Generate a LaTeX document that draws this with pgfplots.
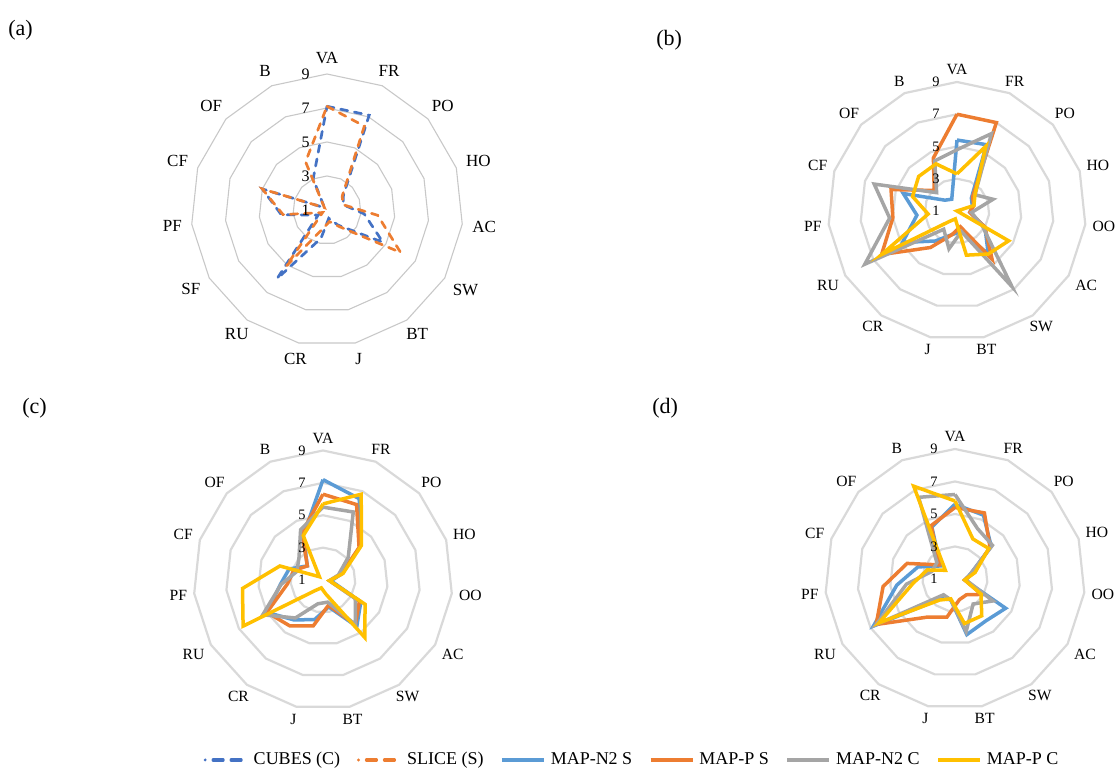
\documentclass[border=0pt]{standalone}
\usepackage{fontspec}
\setmainfont{Liberation Serif}
\usepackage{pgfplots}
\pgfplotsset{compat=1.18}
\usepgfplotslibrary{polar}
\usepackage{pgfplotstable}

\definecolor{cubes}{HTML}{4472C4}
\definecolor{slice}{HTML}{ED7D31}
\definecolor{mns}{HTML}{5B9BD5}
\definecolor{mps}{HTML}{ED7D31}
\definecolor{mnc}{HTML}{A5A5A5}
\definecolor{mpc}{HTML}{FFC000}
\definecolor{ringa}{HTML}{C8C8C8}
\definecolor{ringb}{HTML}{D9D9D9}

% angle, values (VA FR PO HO AC SW BT J CR RU SF PF CF OF B VA)
\pgfplotstableread{
a   cb   sl
90  7.1  7.1
66  7.1  6.4
42  2.3  2.2
18  2.0  2.0
354 3.2  4.0
330 4.8  6.0
306 2.1  2.2
282 1.5  1.7
258 2.7  2.1
234 6.0  5.1
210 1.6  1.3
186 3.7  3.6
162 5.0  5.0
138 1.2  1.2
114 3.0  4.1
90  7.1  7.1
}\tA
% (VA FR PO HO OO AC SW BT J CR RU PF CF OF B VA)
\pgfplotstableread{
a   ns   ps   nc   pc
90  5.4  7.0  4.8  3.3
66  5.5  7.0  6.25 5.4
42  2.2  2.3  2.5  2.5
18  2.0  2.1  3.35 2.1
354 1.8  1.8  1.9  1.0
330 3.0  3.0  2.8  4.7
306 4.3  4.7  6.8  4.3
282 2.3  2.0  2.3  3.8
258 2.5  2.5  3.4  1.5
234 3.3  3.8  2.4  1.8
210 4.9  6.4  7.6  6.4
186 3.5  5.0  5.2  2.8
162 4.5  5.3  6.4  3.9
138 2.0  2.9  2.7  4.2
114 1.8  4.6  4.4  4.2
90  5.4  7.0  4.8  3.3
}\tB
\pgfplotstableread{
a   ns   ps   nc   pc
90  7.2  6.3  5.5  5.7
66  6.5  6.1  5.6  6.8
42  4.1  4.0  3.1  4.2
18  2.2  2.2  2.0  2.3
354 1.5  1.4  1.4  1.4
330 3.7  3.6  3.3  4.0
306 4.55 4.4  4.4  5.4
282 2.7  2.6  2.4  1.9
258 3.5  3.9  2.5  1.5
234 4.05 4.5  3.9  1.8
210 5.0  5.0  5.3  6.7
186 3.65 3.2  3.6  6.0
162 3.2  2.9  2.7  3.8
138 2.3  2.3  3.0  1.3
114 4.0  4.2  4.4  4.0
90  7.2  6.3  5.5  5.7
}\tC
\pgfplotstableread{
a   ns   ps   nc   pc
90  5.6  5.4  6.2  5.8
66  5.3  5.45 4.4  3.7
42  4.0  3.9  4.1  3.8
18  2.0  2.1  2.0  2.3
354 1.6  1.6  1.7  1.6
330 4.6  2.9  3.7  2.85
306 4.2  2.2  2.9  3.8
282 4.5  2.3  4.3  3.8
258 2.3  3.4  2.3  2.25
234 2.5  3.9  2.2  2.6
210 6.8  6.6  6.6  6.4
186 4.6  5.45 4.0  3.6
162 3.4  4.1  2.5  2.8
138 2.2  2.3  2.5  1.8
114 4.5  4.6  6.5  7.25
90  5.6  5.4  6.2  5.8
}\tD

\pgfplotsset{
  radar/.style={hide axis, scale only axis, xmin=0, xmax=360, ymin=0, ymax=8,
    clip=false, anchor=center},
  ringA/.style={draw=ringa, line width=0.55pt, mark=none},
  ringB/.style={draw=ringb, line width=1.1pt, mark=none},
  dsh/.style={line width=1.35pt, mark=none, line cap=round, dash pattern=on 3.6pt off 3.4pt},
  sol/.style={line width=1.75pt, mark=none, line join=miter},
}
\tikzset{
  laba/.style={inner sep=1pt, font=\fontsize{8.5}{10}\selectfont},
  labb/.style={inner sep=1pt, font=\fontsize{7.8}{9}\selectfont},
  tka/.style={anchor=east, inner sep=0pt, xshift=-8.5pt, font=\fontsize{8}{9}\selectfont},
  tkb/.style={anchor=east, inner sep=0pt, xshift=-8.5pt, font=\fontsize{7.2}{8}\selectfont},
}
\newcommand\La[3]{\node[laba,anchor=#2] at (axis cs:#1,8.45) {#3};}
\newcommand\Lb[3]{\node[labb,anchor=#2] at (axis cs:#1,8.3) {#3};}
\newcommand\ringsA[1]{%
  \addplot[ringA] table[x=a, y expr=2] {#1};
  \addplot[ringA] table[x=a, y expr=4] {#1};
  \addplot[ringA] table[x=a, y expr=6] {#1};
  \addplot[ringA] table[x=a, y expr=8] {#1};}
\newcommand\ringsB[1]{%
  \addplot[ringB] table[x=a, y expr=2] {#1};
  \addplot[ringB] table[x=a, y expr=4] {#1};
  \addplot[ringB] table[x=a, y expr=6] {#1};
  \addplot[ringB] table[x=a, y expr=8] {#1};}
\newcommand\labsB{%
  \Lb{90}{270}{VA}\Lb{66}{246}{FR}\Lb{42}{222}{PO}\Lb{18}{198}{HO}
  \Lb{354}{174}{OO}\Lb{330}{150}{AC}\Lb{306}{126}{SW}\Lb{282}{102}{BT}
  \Lb{258}{78}{J}\Lb{234}{54}{CR}\Lb{210}{30}{RU}\Lb{186}{6}{PF}
  \Lb{162}{342}{CF}\Lb{138}{318}{OF}\Lb{114}{294}{B}
  \node[tkb] at (axis cs:90,0) {1};\node[tkb] at (axis cs:90,2) {3};
  \node[tkb] at (axis cs:90,4) {5};\node[tkb] at (axis cs:90,6) {7};
  \node[tkb] at (axis cs:90,8) {9};}
\newcommand\seriesB[1]{%
  \addplot[sol, draw=mns] table[x=a, y expr=\thisrow{ns}-1] {#1};
  \addplot[sol, draw=mps] table[x=a, y expr=\thisrow{ps}-1] {#1};
  \addplot[sol, draw=mnc] table[x=a, y expr=\thisrow{nc}-1] {#1};
  \addplot[sol, draw=mpc] table[x=a, y expr=\thisrow{pc}-1] {#1};}

\begin{document}
\begin{tikzpicture}
\useasboundingbox (0,0) rectangle (557.5pt,384.5pt);

% ---------- (a)
\begin{polaraxis}[radar, at={(163.5pt,279.5pt)}, width=136pt, height=136pt]
  \ringsA{\tA}
  \addplot[dsh, draw=cubes] table[x=a, y expr=\thisrow{cb}-1] {\tA};
  \addplot[dsh, draw=slice] table[x=a, y expr=\thisrow{sl}-1] {\tA};
  \La{90}{270}{VA}\La{66}{246}{FR}\La{42}{222}{PO}\La{18}{198}{HO}
  \La{354}{174}{AC}\La{330}{150}{SW}\La{306}{126}{BT}\La{282}{102}{J}
  \La{258}{78}{CR}\La{234}{54}{RU}\La{210}{30}{SF}\La{186}{6}{PF}
  \La{162}{342}{CF}\La{138}{318}{OF}\La{114}{294}{B}
  \node[tka] at (axis cs:90,0) {1};\node[tka] at (axis cs:90,2) {3};
  \node[tka] at (axis cs:90,4) {5};\node[tka] at (axis cs:90,6) {7};
  \node[tka] at (axis cs:90,8) {9};
\end{polaraxis}

% ---------- (b)
\begin{polaraxis}[radar, at={(478.5pt,279pt)}, width=129pt, height=129pt]
  \ringsB{\tB}
  \seriesB{\tB}
  \labsB
\end{polaraxis}

% ---------- (c)
\begin{polaraxis}[radar, at={(161.5pt,94.5pt)}, width=129.5pt, height=129.5pt]
  \ringsB{\tC}
  \seriesB{\tC}
  \labsB
\end{polaraxis}

% ---------- (d)
\begin{polaraxis}[radar, at={(477.5pt,95pt)}, width=130pt, height=130pt]
  \ringsB{\tD}
  \seriesB{\tD}
  \labsB
\end{polaraxis}

% panel letters
\node[anchor=west, inner sep=0pt, font=\fontsize{11}{13}\selectfont] at (4pt,369.5pt) {(a)};
\node[anchor=west, inner sep=0pt, font=\fontsize{11}{13}\selectfont] at (328pt,364.5pt) {(b)};
\node[anchor=west, inner sep=0pt, font=\fontsize{11}{13}\selectfont] at (11pt,180.5pt) {(c)};
\node[anchor=west, inner sep=0pt, font=\fontsize{11}{13}\selectfont] at (326pt,180.5pt) {(d)};

% legend
\begin{axis}[hide axis, scale only axis, width=10pt, height=5pt,
  at={(316.5pt,4.5pt)}, anchor=center, xmin=0, xmax=1, ymin=0, ymax=1,
  legend columns=6,
  legend image code/.code={\draw[#1] (0pt,0pt) -- (21pt,0pt);},
  legend style={at={(0.5,0.5)}, anchor=center, draw=none, fill=none,
    font=\fontsize{9}{10}\selectfont, inner sep=0pt, column sep=0.5pt,
    /tikz/every even column/.append style={column sep=6.3pt}}]
  \addlegendimage{line width=1.6pt, line cap=round, dash pattern=on 0pt off 4pt on 5pt off 4pt on 5pt off 4pt, draw=cubes}
  \addlegendentry{CUBES (C)}
  \addlegendimage{line width=1.6pt, line cap=round, dash pattern=on 0pt off 4pt on 5pt off 4pt on 5pt off 4pt, draw=slice}
  \addlegendentry{SLICE (S)}
  \addlegendimage{line width=1.8pt, draw=mns}
  \addlegendentry{MAP-N2 S}
  \addlegendimage{line width=1.8pt, draw=mps}
  \addlegendentry{MAP-P S}
  \addlegendimage{line width=1.8pt, draw=mnc}
  \addlegendentry{MAP-N2 C}
  \addlegendimage{line width=1.8pt, draw=mpc}
  \addlegendentry{MAP-P C}
\end{axis}
\end{tikzpicture}
\end{document}
